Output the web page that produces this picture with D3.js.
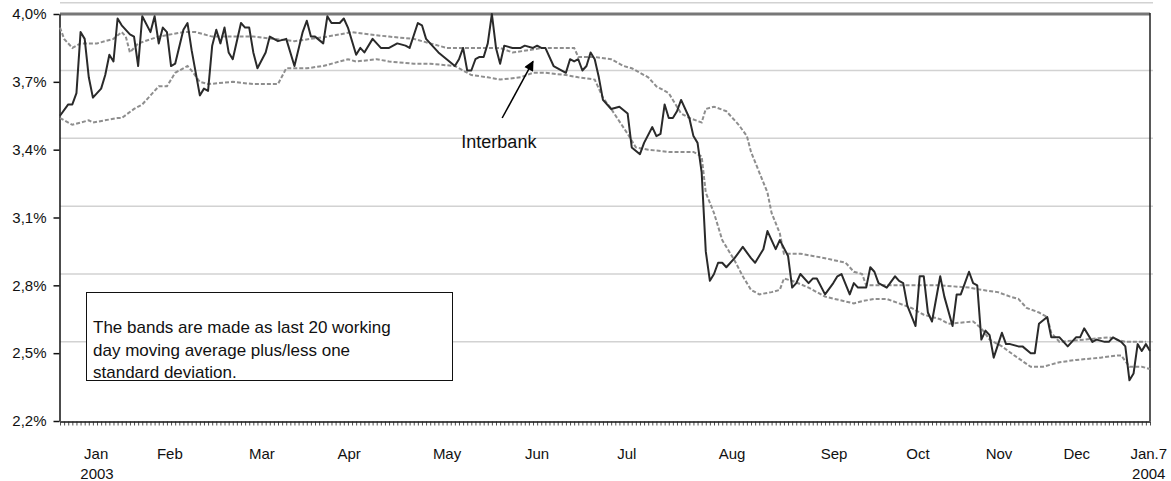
<!DOCTYPE html>
<html>
<head>
<meta charset="utf-8">
<script src="https://d3js.org/d3.v7.min.js"></script>
<style>
  body { margin: 0; background: #fff; }
  svg { display: block; font-family: "Liberation Sans", Arial, sans-serif; }
</style>
</head>
<body>
<div class="chart"></div>
<script>
// working day index (0 = first working day of Jan 2003, 265 = Jan 7 2004), rate in %
const interbank = [
  [0,3.55],[2,3.60],[3,3.60],[4,3.65],[5,3.92],[6,3.89],[7,3.72],[8,3.63],[10,3.67],[11,3.73],
  [12,3.82],[13,3.79],[14,3.98],[15,3.95],[17,3.91],[18,3.90],[19,3.77],[20,3.99],[22,3.92],[23,3.99],
  [24,3.87],[25,3.94],[26,3.92],[27,3.77],[28,3.78],[30,3.93],[31,3.96],[32,3.84],[34,3.64],[35,3.67],
  [36,3.66],[37,3.86],[38,3.93],[39,3.87],[40,3.94],[41,3.83],[42,3.80],[44,3.96],[45,3.94],[46,3.94],
  [47,3.83],[48,3.76],[50,3.83],[51,3.90],[53,3.88],[55,3.89],[57,3.77],[59,3.92],[60,3.97],[61,3.90],
  [62,3.90],[64,3.87],[65,3.99],[66,3.96],[68,3.96],[69,3.98],[70,3.94],[72,3.82],[73,3.85],[74,3.83],
  [76,3.89],[77,3.87],[78,3.85],[80,3.85],[82,3.87],[84,3.86],[85,3.85],[87,3.96],[88,3.95],[89,3.89],
  [91,3.85],[92,3.83],[94,3.80],[96,3.77],[97,3.80],[98,3.85],[99,3.75],[100,3.75],[101,3.80],[102,3.81],
  [103,3.81],[104,3.87],[105,4.00],[106,3.85],[107,3.78],[108,3.86],[110,3.85],[112,3.85],[113,3.86],[115,3.85],
  [116,3.86],[117,3.85],[118,3.85],[120,3.77],[121,3.76],[123,3.74],[124,3.80],[125,3.79],[126,3.80],[127,3.75],
  [128,3.77],[129,3.83],[130,3.80],[131,3.72],[132,3.62],[134,3.58],[136,3.59],[138,3.56],[139,3.41],[141,3.38],
  [142,3.43],[144,3.50],[145,3.46],[146,3.47],[147,3.60],[148,3.54],[149,3.54],[150,3.57],[151,3.62],[153,3.54],
  [154,3.46],[155,3.43],[156,3.30],[157,2.95],[158,2.82],[159,2.85],[160,2.90],[161,2.90],[162,2.88],[164,2.92],
  [166,2.97],[168,2.92],[169,2.90],[171,2.96],[172,3.04],[174,2.96],[175,3.00],[177,2.93],[178,2.79],[179,2.81],
  [180,2.85],[182,2.81],[183,2.83],[184,2.83],[186,2.76],[188,2.81],[189,2.84],[190,2.85],[192,2.76],[193,2.81],
  [194,2.79],[196,2.79],[197,2.88],[198,2.86],[199,2.81],[201,2.79],[203,2.84],[204,2.82],[205,2.81],[206,2.71],
  [208,2.62],[209,2.84],[210,2.84],[211,2.68],[212,2.64],[214,2.84],[215,2.75],[217,2.62],[218,2.76],[219,2.76],
  [220,2.81],[221,2.86],[222,2.81],[223,2.80],[224,2.56],[225,2.60],[226,2.58],[227,2.48],[229,2.59],[230,2.54],
  [231,2.54],[233,2.53],[234,2.53],[236,2.50],[237,2.50],[238,2.63],[240,2.66],[241,2.57],[243,2.57],[245,2.53],
  [247,2.57],[248,2.57],[249,2.61],[251,2.55],[252,2.56],[254,2.55],[255,2.55],[256,2.57],[258,2.55],[259,2.53],
  [260,2.38],[261,2.41],[262,2.54],[263,2.51],[264,2.54],[265,2.51]
];

const upperBand = [
  [0,3.94],[1,3.89],[3,3.85],[5,3.87],[9,3.87],[13,3.89],[15,3.92],[16,3.90],[17,3.83],[19,3.87],
  [24,3.90],[30,3.92],[33,3.92],[37,3.90],[42,3.90],[47,3.90],[52,3.89],[57,3.88],[61,3.89],[65,3.90],
  [68,3.91],[71,3.92],[75,3.91],[80,3.90],[86,3.89],[90,3.87],[94,3.85],[99,3.85],[104,3.85],[107,3.85],
  [110,3.83],[114,3.84],[117,3.85],[121,3.85],[125,3.85],[126,3.81],[130,3.81],[134,3.80],[137,3.77],[139,3.76],
  [143,3.72],[145,3.68],[148,3.65],[149,3.62],[151,3.56],[153,3.54],[156,3.52],[157,3.58],[159,3.59],[162,3.57],
  [165,3.51],[167,3.46],[168,3.39],[170,3.30],[172,3.21],[173,3.12],[175,3.03],[176,2.94],[180,2.94],[183,2.93],
  [186,2.92],[191,2.90],[193,2.86],[195,2.85],[196,2.80],[202,2.80],[207,2.80],[214,2.80],[221,2.79],[224,2.78],
  [228,2.77],[231,2.75],[233,2.74],[235,2.70],[238,2.68],[240,2.66],[241,2.59],[243,2.55],[249,2.56],[255,2.57],
  [259,2.55],[262,2.55],[264,2.55]
];

const lowerBand = [
  [0,3.54],[3,3.51],[7,3.53],[8,3.52],[14,3.54],[15,3.54],[18,3.58],[20,3.60],[23,3.66],[24,3.68],
  [26,3.68],[28,3.74],[31,3.77],[32,3.75],[34,3.70],[36,3.69],[42,3.70],[47,3.69],[53,3.69],[55,3.76],
  [58,3.76],[60,3.76],[64,3.77],[70,3.80],[72,3.79],[77,3.80],[80,3.79],[86,3.78],[90,3.78],[96,3.77],
  [100,3.73],[104,3.72],[107,3.71],[112,3.72],[115,3.74],[118,3.74],[123,3.73],[126,3.72],[130,3.71],[132,3.63],
  [134,3.58],[138,3.47],[140,3.41],[143,3.40],[148,3.39],[151,3.39],[154,3.39],[156,3.37],[157,3.21],[159,3.12],
  [161,3.00],[164,2.91],[166,2.84],[168,2.78],[170,2.76],[173,2.77],[175,2.78],[176,2.83],[178,2.82],[182,2.79],
  [186,2.75],[193,2.72],[195,2.73],[198,2.74],[201,2.74],[204,2.72],[207,2.70],[210,2.67],[214,2.65],[216,2.63],
  [222,2.64],[224,2.61],[226,2.56],[229,2.53],[232,2.49],[236,2.44],[239,2.44],[243,2.46],[247,2.47],[253,2.48],
  [257,2.49],[258,2.49],[260,2.44],[263,2.44],[265,2.43]
];

const yTicks = [2.2, 2.5, 2.8, 3.1, 3.4, 3.7, 4.0];
const gridValues = [4.05, 3.75, 3.45, 3.15, 2.85, 2.55];

const monthLabels = [
  {label: 'Jan', day: 8.8}, {label: 'Feb', day: 26.7}, {label: 'Mar', day: 49.1},
  {label: 'Apr', day: 70.3}, {label: 'May', day: 94.1}, {label: 'Jun', day: 116.0},
  {label: 'Jul', day: 137.8}, {label: 'Aug', day: 163.4}, {label: 'Sep', day: 188.2},
  {label: 'Oct', day: 208.6}, {label: 'Nov', day: 228.3}, {label: 'Dec', day: 247.2},
  {label: 'Jan.7', day: 264.7}
];
const yearLabels = [{label: '2003', day: 9.0}, {label: '2004', day: 264.7}];

const noteLines = [
  'The bands are made as last 20 working',
  'day moving average plus/less one',
  'standard deviation.'
];

const width = 1171, height = 481;
const lastDay = 265;

const svg = d3.select('.chart').append('svg')
  .attr('width', width)
  .attr('height', height);

const x = d3.scaleLinear().domain([0, lastDay]).range([60, 1150]);
const y = d3.scaleLinear().domain([2.2, 4.0]).range([421, 14]);

const locale = d3.formatLocale({decimal: ',', thousands: '.', grouping: [3], currency: ['', '']});
const fmt = d => locale.format('.1f')(d) + '%';

// light gridlines
svg.selectAll('.grid')
  .data(gridValues)
  .enter().append('line')
  .attr('class', 'grid')
  .attr('x1', x(0))
  .attr('x2', x(lastDay) + 3)
  .attr('y1', d => y(d))
  .attr('y2', d => y(d))
  .attr('stroke', '#d2d2d2')
  .attr('stroke-width', 1.5);

// plot frame: thick grey top, black right
svg.append('line')
  .attr('x1', x(0)).attr('x2', x(lastDay))
  .attr('y1', y(4.0)).attr('y2', y(4.0))
  .attr('stroke', '#777').attr('stroke-width', 3);
svg.append('line')
  .attr('x1', x(lastDay)).attr('x2', x(lastDay))
  .attr('y1', y(4.0) - 1).attr('y2', y(2.2))
  .attr('stroke', '#222').attr('stroke-width', 1.5);

// y axis
const yAxis = svg.append('g')
  .attr('transform', 'translate(59.5,0)')
  .call(d3.axisLeft(y).tickValues(yTicks).tickSize(6).tickSizeOuter(0).tickPadding(7).tickFormat(fmt));
yAxis.selectAll('text').attr('font-size', 15).attr('fill', '#111').attr('font-family', '"Liberation Sans", Arial, sans-serif');
yAxis.selectAll('line, path').attr('stroke', '#111').attr('stroke-width', 1.5);

// x axis with a tick per working day
const xAxis = svg.append('g')
  .attr('transform', 'translate(0,421.5)')
  .call(d3.axisBottom(x).tickValues(d3.range(0, lastDay + 1)).tickSize(4).tickSizeOuter(0).tickFormat(''));
xAxis.selectAll('line').attr('stroke', '#222').attr('stroke-width', 0.8);
xAxis.select('path').attr('stroke', '#111').attr('stroke-width', 1.5);

svg.selectAll('.month')
  .data(monthLabels)
  .enter().append('text')
  .attr('class', 'month')
  .attr('x', d => x(d.day))
  .attr('y', 459)
  .attr('text-anchor', 'middle')
  .attr('font-size', 15)
  .attr('fill', '#111')
  .text(d => d.label);

svg.selectAll('.year')
  .data(yearLabels)
  .enter().append('text')
  .attr('class', 'year')
  .attr('x', d => x(d.day))
  .attr('y', 479)
  .attr('text-anchor', 'middle')
  .attr('font-size', 15)
  .attr('fill', '#111')
  .text(d => d.label);

// series
const line = d3.line()
  .x(d => x(d[0]))
  .y(d => y(d[1]));

[upperBand, lowerBand].forEach(function(band) {
  svg.append('path')
    .datum(band)
    .attr('fill', 'none')
    .attr('stroke', '#8e8e8e')
    .attr('stroke-width', 2)
    .attr('stroke-dasharray', '4,2')
    .attr('d', line);
});

svg.append('path')
  .datum(interbank)
  .attr('fill', 'none')
  .attr('stroke', '#2a2a2a')
  .attr('stroke-width', 2)
  .attr('stroke-linejoin', 'round')
  .attr('d', line);

// arrow annotation
svg.append('defs').append('marker')
  .attr('id', 'head')
  .attr('viewBox', '0 0 10 10')
  .attr('refX', 9).attr('refY', 5)
  .attr('markerUnits', 'userSpaceOnUse')
  .attr('markerWidth', 13).attr('markerHeight', 10)
  .attr('orient', 'auto')
  .append('path')
  .attr('d', 'M0,0L10,5L0,10z')
  .attr('fill', '#000');

svg.append('line')
  .attr('x1', x(107.5)).attr('y1', y(3.54))
  .attr('x2', x(115.0)).attr('y2', y(3.79))
  .attr('stroke', '#000')
  .attr('stroke-width', 1.5)
  .attr('marker-end', 'url(#head)');

svg.append('text')
  .attr('x', x(106.7))
  .attr('y', y(3.41) + 1)
  .attr('text-anchor', 'middle')
  .attr('font-size', 18)
  .attr('fill', '#111')
  .text('Interbank');

// note box
const note = svg.append('g');
note.append('rect')
  .attr('x', 86.5).attr('y', 292.5)
  .attr('width', 366).attr('height', 88)
  .attr('fill', '#fff')
  .attr('stroke', '#111')
  .attr('stroke-width', 1);
note.selectAll('text')
  .data(noteLines)
  .enter().append('text')
  .attr('x', 93)
  .attr('y', (d, i) => 333 + i * 22.5)
  .attr('font-size', 17)
  .attr('fill', '#111')
  .text(d => d);
</script>
</body>
</html>
